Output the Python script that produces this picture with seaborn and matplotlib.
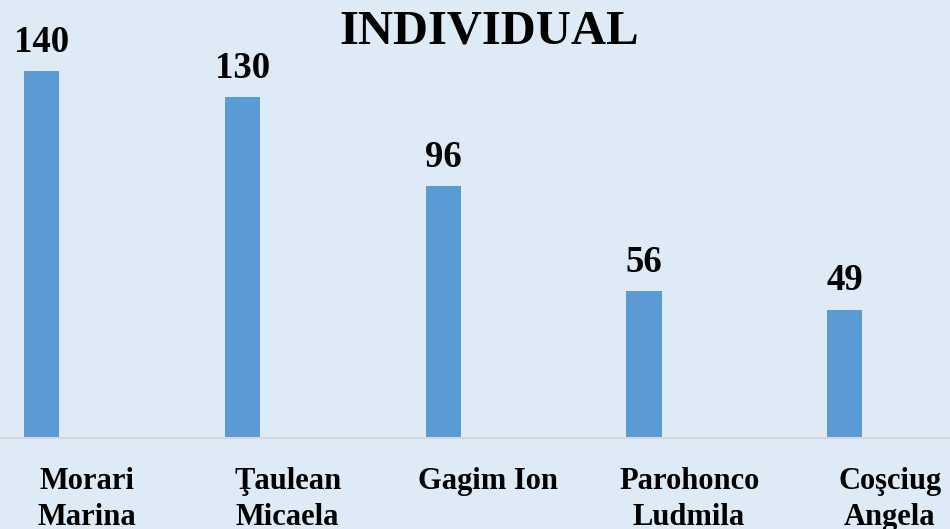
import matplotlib.pyplot as plt
import pandas as pd
import seaborn as sns

names = ["Morari\nMarina", "Ţaulean\nMicaela", "Gagim Ion", "Parohonco\nLudmila", "Coşciug\nAngela"]
scores = [140, 130, 96, 56, 49]
# Excel chart had a second (empty) series, which pushes the bars left of the labels
empty = [0, 0, 0, 0, 0]

BG = "#DEEAF6"
BAR = "#5B9BD5"
FONT = "Liberation Serif"

df = pd.DataFrame({
    "name": names * 2,
    "value": scores + empty,
    "series": ["main"] * len(names) + ["blank"] * len(names),
})

sns.set_style("white")
plt.rcParams["font.family"] = [FONT, "DejaVu Serif"]
plt.rcParams["text.color"] = "black"
plt.rcParams["xtick.color"] = "black"

fig = plt.figure(figsize=(9.5, 5.29), dpi=100, facecolor=BG)
ax = fig.add_axes([0, 91 / 529, 1, 438 / 529])
ax.set_facecolor(BG)

sns.barplot(data=df, x="name", y="value", hue="series", hue_order=["main", "blank"],
            palette=[BAR, BAR], saturation=1, width=0.9, gap=0.61, linewidth=0,
            legend=False, ax=ax)

ax.bar_label(ax.containers[0], fmt="%g", padding=8, fontsize=26.5, fontweight="bold",
             family=FONT, color="black")

ax.set_xlim(-87 / 200.7, (950 - 87) / 200.7)
ax.set_ylim(0, 438 / 2.621)
ax.set_xlabel("")
ax.set_ylabel("")
ax.set_yticks([])

for side in ["top", "left", "right"]:
    ax.spines[side].set_visible(False)
ax.spines["bottom"].set_color("#D5D9DE")
ax.spines["bottom"].set_linewidth(1.5)

ax.tick_params(axis="x", length=0, pad=21, colors="black")
for lbl in ax.get_xticklabels():
    lbl.set_fontsize(22)
    lbl.set_fontweight("bold")
    lbl.set_linespacing(1.3)

fig.text(489 / 950, 1 - 44 / 529, "INDIVIDUAL", ha="center", va="baseline",
         fontsize=35, fontweight="bold", family=FONT, color="black")

fig.savefig("out.png", dpi=100, facecolor=BG)
